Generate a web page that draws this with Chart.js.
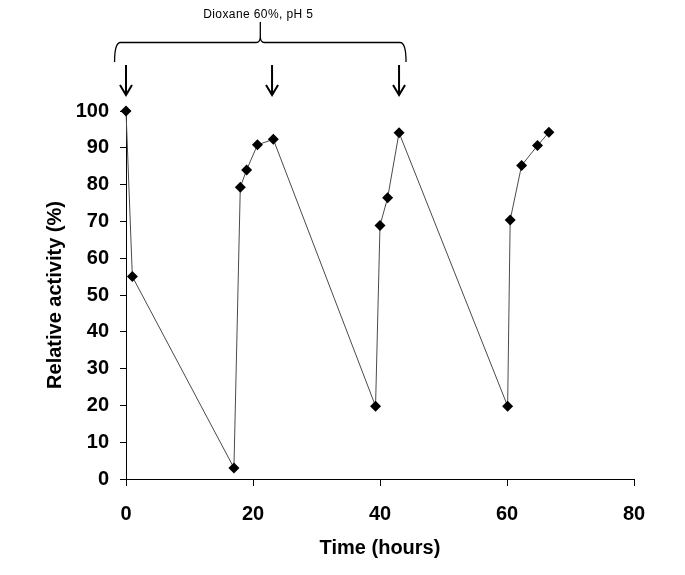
<!DOCTYPE html>
<html>
<head>
<meta charset="utf-8">
<script src="https://cdn.jsdelivr.net/npm/chart.js@4.4.1/dist/chart.umd.min.js"></script>
<style>
  body { margin: 0; background: #fff; }
  #wrap { width: 685px; height: 575px; }
</style>
</head>
<body>
<div id="wrap"><canvas id="chart" width="685" height="575"></canvas></div>
<script>
// Data
const timeHours = [0, 1, 17, 18, 19, 20.7, 23.2, 39.3, 40, 41.2, 43, 60.1, 60.5, 62.3, 64.8, 66.6];
const activity = [100, 55, 3, 79.3, 84, 90.8, 92.3, 19.8, 68.9, 76.4, 94.1, 19.8, 70.4, 85.2, 90.6, 94.2];
const xTicks = [0, 20, 40, 60, 80];
const yTicks = [0, 10, 20, 30, 40, 50, 60, 70, 80, 90, 100];

// Solvent additions (arrows) and the span of the brace
const arrowTimes = [0, 23, 43];
const braceSpan = [-1.8, 44.1];
const braceLabel = 'Dioxane 60%, pH 5';

const points = timeHours.map((t, i) => ({ x: t, y: activity[i] }));

const tickFont = { family: 'Liberation Sans, Arial, sans-serif', size: 20, weight: 'bold' };

// Arrows + curly brace above the plot
const annotations = {
    id: 'annotations',
    afterDraw(chart) {
        const ctx = chart.ctx;
        const xs = chart.scales.x;
        const top = chart.chartArea.top;
        ctx.save();
        ctx.strokeStyle = '#000';

        // arrows
        ctx.lineWidth = 2;
        arrowTimes.forEach(t => {
            const px = xs.getPixelForValue(t);
            ctx.beginPath();
            ctx.moveTo(px, top - 46);
            ctx.lineTo(px, top - 16);
            ctx.moveTo(px - 6, top - 26);
            ctx.lineTo(px, top - 16);
            ctx.lineTo(px + 6, top - 26);
            ctx.stroke();
        });

        // brace
        const x1 = xs.getPixelForValue(braceSpan[0]);
        const x2 = xs.getPixelForValue(braceSpan[1]);
        const xm = (x1 + x2) / 2;
        const yb = top - 68.5;
        ctx.lineWidth = 1.3;
        ctx.beginPath();
        ctx.moveTo(x1, top - 49);
        ctx.quadraticCurveTo(x1, yb, x1 + 6, yb);
        ctx.lineTo(xm - 4, yb);
        ctx.quadraticCurveTo(xm, yb, xm, yb - 6);
        ctx.lineTo(xm, top - 89);
        ctx.moveTo(xm, yb - 6);
        ctx.quadraticCurveTo(xm, yb, xm + 4, yb);
        ctx.lineTo(x2 - 6, yb);
        ctx.quadraticCurveTo(x2, yb, x2, top - 49);
        ctx.stroke();

        ctx.fillStyle = '#000';
        ctx.font = '12px Liberation Sans, Arial, sans-serif';
        ctx.letterSpacing = '0.4px';
        ctx.textAlign = 'center';
        ctx.textBaseline = 'middle';
        ctx.fillText(braceLabel, xm - 2, top - 96);
        ctx.restore();
    }
};

new Chart(document.getElementById('chart'), {
    type: 'scatter',
    data: {
        datasets: [{
            data: points,
            showLine: true,
            clip: false,
            borderColor: '#4a4a4a',
            borderWidth: 1,
            pointStyle: 'rectRot',
            pointRadius: 5.5,
            pointBackgroundColor: '#000',
            pointBorderColor: '#000',
            pointBorderWidth: 0
        }]
    },
    options: {
        responsive: false,
        animation: false,
        layout: { padding: { top: 111, right: 51, left: 0, bottom: 0 } },
        plugins: {
            legend: { display: false },
            tooltip: { enabled: false }
        },
        scales: {
            x: {
                type: 'linear',
                min: 0,
                max: 80,
                afterBuildTicks: s => { s.ticks = xTicks.map(v => ({ value: v })); },
                afterFit: s => { s.height = 96; },
                grid: { drawOnChartArea: false, tickLength: 7, color: '#000' },
                border: { color: '#000', width: 1 },
                ticks: { color: '#000', font: tickFont, padding: 16, maxRotation: 0 },
                title: {
                    display: true,
                    text: 'Time (hours)',
                    color: '#000',
                    font: tickFont,
                    padding: { top: 0, bottom: 15 }
                }
            },
            y: {
                min: 0,
                max: 100,
                afterBuildTicks: s => { s.ticks = yTicks.map(v => ({ value: v })); },
                afterFit: s => { s.width = 126; },
                grid: { drawOnChartArea: false, tickLength: 6, color: '#000' },
                border: { color: '#000', width: 1 },
                ticks: { color: '#000', font: tickFont, padding: 11 },
                title: {
                    display: true,
                    text: 'Relative activity (%)',
                    color: '#000',
                    font: tickFont,
                    padding: { top: 43, bottom: 0 }
                }
            }
        }
    },
    plugins: [annotations]
});
</script>
</body>
</html>
